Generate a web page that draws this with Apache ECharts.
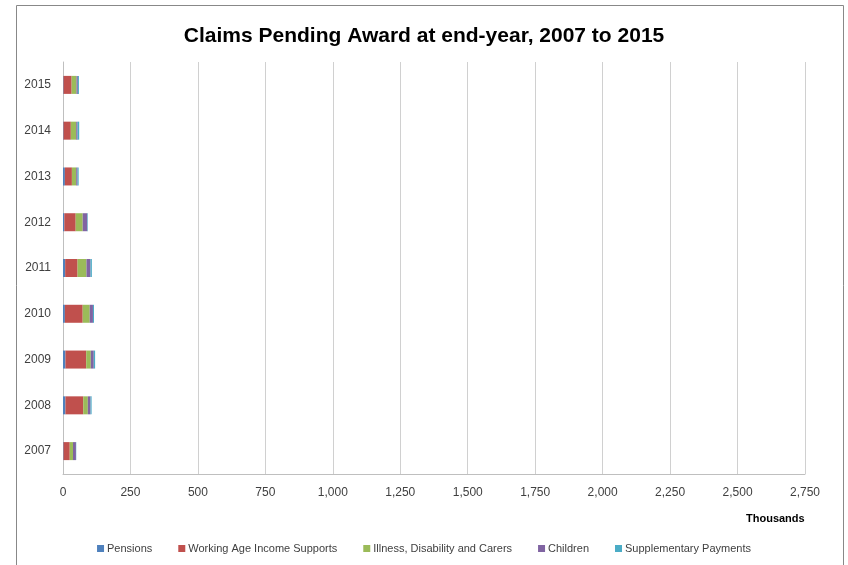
<!DOCTYPE html>
<html>
<head>
<meta charset="utf-8">
<script src="https://cdn.jsdelivr.net/npm/echarts@6/dist/echarts.min.js"></script>
<style>html,body{margin:0;padding:0;background:#fff}#c{width:848px;height:565px}</style>
</head>
<body>
<div id="c"></div>
<script>
const years = ['2007','2008','2009','2010','2011','2012','2013','2014','2015'];
const seriesNames = ['Pensions','Working Age Income Supports','Illness, Disability and Carers','Children','Supplementary Payments'];
const pensions = [2, 9, 9, 7, 8, 5, 7, 2, 2];
const workingAge = [23, 66, 77, 66, 46, 42, 26, 27, 30];
const illness = [12, 17, 17, 26, 33, 26, 16, 20, 18];
const children = [11, 10, 11, 12, 15, 17, 5, 5, 5];
const supplementary = [1, 4, 5, 4, 5, 2, 4, 6, 4];
const xTicks = [0, 250, 500, 750, 1000, 1250, 1500, 1750, 2000, 2250, 2500, 2750];

const colors = ['#4F81BD','#C0504D','#9BBB59','#8064A2','#4BACC6'];
const values = [pensions, workingAge, illness, children, supplementary];
const font = 'Liberation Sans';

const chart = echarts.init(document.getElementById('c'), null, {renderer:'canvas'});
chart.setOption({
  animation: false,
  color: colors,
  title: [
    {text: 'Claims Pending Award at end-year, 2007 to 2015', left: 'center', top: 21,
     textStyle: {fontFamily: font, fontSize: 21, fontWeight: 'bold', color: '#000'}},
    {text: 'Thousands', left: 741, top: 508,
     textStyle: {fontFamily: font, fontSize: 11, fontWeight: 'bold', color: '#000'}}
  ],
  graphic: [{type: 'rect', shape: {x: 16.5, y: 5.5, width: 827, height: 570},
    style: {fill: 'none', stroke: '#888', lineWidth: 1}, silent: true}],
  legend: {
    bottom: 6, left: 'center', itemWidth: 7, itemHeight: 7, itemGap: 26,
    icon: 'rect', data: seriesNames,
    textStyle: {fontFamily: font, fontSize: 11, color: '#404040', padding: [0,0,0,-2]}
  },
  grid: {left: 63, right: 43, top: 62, bottom: 91, containLabel: false},
  xAxis: {
    type: 'value', min: xTicks[0], max: xTicks[xTicks.length-1], interval: 250,
    axisLine: {show: true, lineStyle: {color: '#bfbfbf'}},
    axisTick: {show: false},
    splitLine: {show: true, lineStyle: {color: '#d0d0d0'}},
    axisLabel: {fontFamily: font, fontSize: 12, color: '#404040', margin: 13,
      formatter: v => v.toLocaleString('en-US')}
  },
  yAxis: {
    type: 'category', data: years,
    axisLine: {show: true, lineStyle: {color: '#bfbfbf'}},
    axisTick: {show: false},
    axisLabel: {fontFamily: font, fontSize: 12, color: '#404040', margin: 12}
  },
  series: seriesNames.map((n, i) => ({
    name: n, type: 'bar', stack: 'total', barWidth: 18, data: values[i]
  }))
});
</script>
</body>
</html>
